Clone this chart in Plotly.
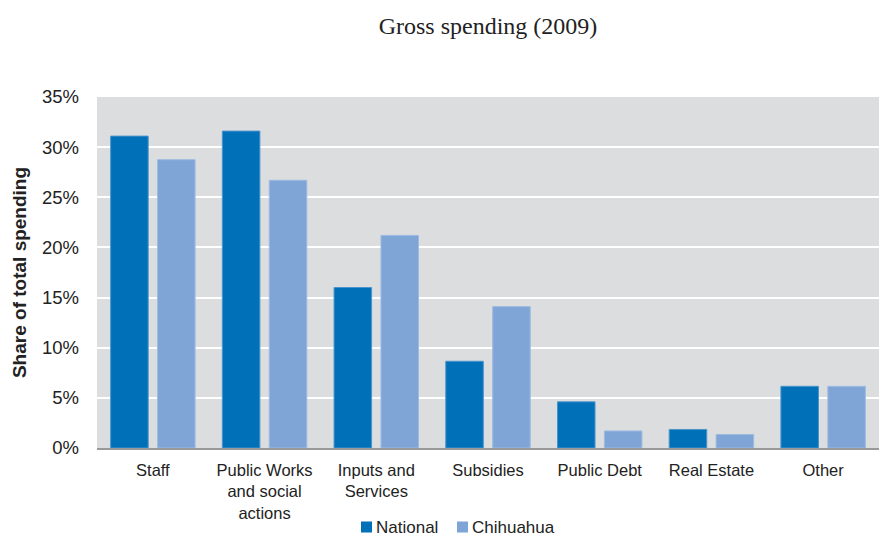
import plotly.graph_objects as go

categories = ["Staff", "Public Works<br>and social<br>actions", "Inputs and<br>Services",
              "Subsidies", "Public Debt", "Real Estate", "Other"]
national = [31.1, 31.6, 16.0, 8.65, 4.6, 1.85, 6.15]
chihuahua = [28.75, 26.7, 21.2, 14.1, 1.7, 1.35, 6.15]
y_ticks = [0, 5, 10, 15, 20, 25, 30, 35]
y_tick_labels = [f"{v}%" for v in y_ticks]

series_names = ["National", "Chihuahua"]
series_colors = ["#0070b8", "#7fa5d7"]
series_edges = ["#4a94cc", "#9dbbe2"]

W, H = 879, 539
ML, MR, MT, MB = 97, 0, 97, 91
PW, PH = W - ML - MR, H - MT - MB


def px_x(x):
    """Pixel column -> paper x."""
    return (x - ML) / PW


def px_y(y):
    """Pixel row -> paper y."""
    return (H - MB - y) / PH


fig = go.Figure()
for name, vals, col, edge in zip(series_names, [national, chihuahua], series_colors, series_edges):
    fig.add_trace(go.Bar(
        x=categories, y=vals, name=name,
        marker=dict(color=col, line=dict(color=edge, width=1)),
    ))

# compact key below the axis: small square swatch followed by the series name
key_left = [361, 457]
key_mid = 527
for name, col, x0 in zip(series_names, series_colors, key_left):
    fig.add_shape(type="rect", xref="paper", yref="paper",
                  x0=px_x(x0), x1=px_x(x0 + 11), y0=px_y(key_mid + 5.5), y1=px_y(key_mid - 5.5),
                  fillcolor=col, line=dict(width=0))
    fig.add_annotation(text=name, xref="paper", yref="paper",
                       x=px_x(x0 + 14), y=px_y(key_mid), xanchor="left", yanchor="middle",
                       showarrow=False, borderpad=0, font=dict(size=17, color="#222222"))

fig.update_layout(
    width=W, height=H,
    margin=dict(l=ML, r=MR, t=MT, b=MB, autoexpand=False),
    paper_bgcolor="white",
    plot_bgcolor="#dcdddf",
    barmode="group",
    bargap=0.16,
    bargroupgap=0.2,
    showlegend=False,
    font=dict(family="Liberation Sans, Arial, sans-serif", color="#333333"),
    title=dict(
        text="Gross spending (2009)",
        font=dict(family="Liberation Serif, Times New Roman, serif", size=24, color="#222222"),
        x=0.5, xanchor="center", xref="paper",
        y=1 - 26 / H, yanchor="middle", yref="container",
    ),
)

fig.update_yaxes(
    range=[0, 35], tickvals=y_ticks, ticktext=y_tick_labels,
    showgrid=True, gridcolor="white", gridwidth=1.5,
    zeroline=False, showline=False, automargin=False,
    tickfont=dict(size=18.5, color="#222222"),
    ticks="", ticklabelstandoff=17,
    title=dict(text="<b>Share of total spending</b>", font=dict(size=19, color="#222222"), standoff=10),
)
fig.update_xaxes(
    showgrid=False, showline=True, linecolor="#999999", linewidth=2,
    automargin=False,
    tickfont=dict(size=16.5, color="#222222"),
    ticks="", ticklabelstandoff=6,
)

fig.write_html("out.html")
